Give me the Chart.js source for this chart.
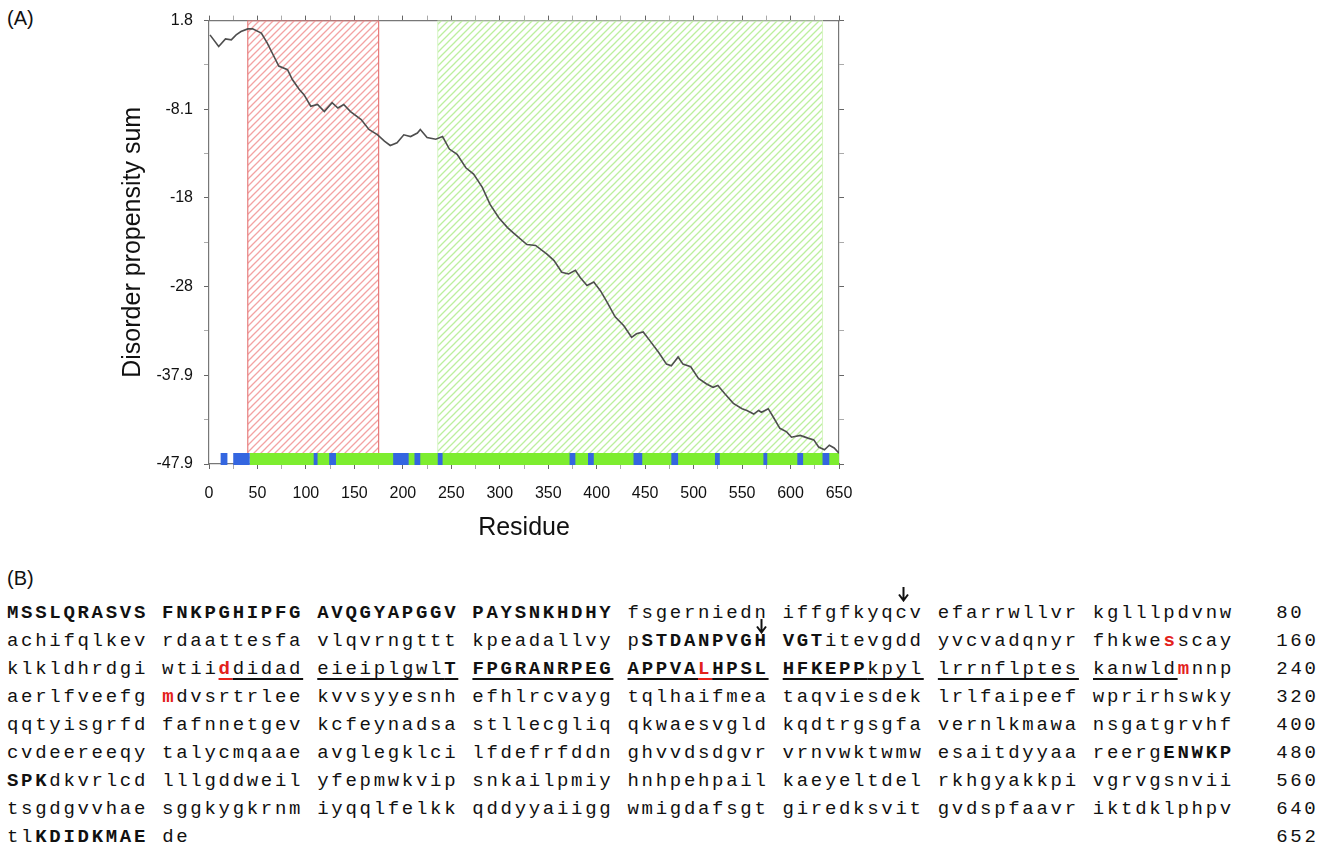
<!DOCTYPE html>
<html>
<head>
<meta charset="utf-8">
<script src="https://cdn.jsdelivr.net/npm/chart.js@4.4.1/dist/chart.umd.min.js"></script>
<style>
  html, body { margin: 0; padding: 0; background: #fff; }
  body { width: 1332px; height: 846px; position: relative; overflow: hidden; font-family: "Liberation Sans", Arial, sans-serif; }
  #wrap { position: absolute; left: 0; top: 0; width: 880px; height: 560px; }
  .panel { position: absolute; left: 7px; font-size: 20px; line-height: 22px; color: #111; }
  #seq { position: absolute; left: 7px; top: 599px; margin: 0; font-family: "Liberation Mono", "Courier New", monospace;
         font-size: 19px; line-height: 28px; letter-spacing: 2.7px; white-space: pre; color: #111; }
  #seq b { font-weight: bold; }
  #seq .r { color: #e3211b; font-weight: bold; }
  #seq .u { text-decoration: underline; text-underline-offset: 4px; text-decoration-thickness: 1.5px; }
  .arrow { position: absolute; }
</style>
</head>
<body>
<div class="panel" style="top:7px">(A)</div>
<div id="wrap"><canvas id="chart" width="880" height="560"></canvas></div>
<div class="panel" style="top:567px">(B)</div>

<svg class="arrow" style="left:756px;top:619px" width="11" height="15"><path d="M5.5 0V13M1 7.5L5.5 13.5L10 7.5" fill="none" stroke="#111" stroke-width="2"/></svg>
<svg class="arrow" style="left:898px;top:587px" width="11" height="15"><path d="M5.5 0V13M1 7.5L5.5 13.5L10 7.5" fill="none" stroke="#111" stroke-width="2"/></svg>

<pre id="seq"><b>MSSLQRASVS FNKPGHIPFG AVQGYAPGGV PAYSNKHDHY</b> fsgerniedn iffgfkyqcv efarrwllvr kglllpdvnw   80
achifqlkev rdaattesfa vlqvrngttt kpeadallvy p<b>STDANPVGH</b> <b>VGT</b>itevgdd yvcvadqnyr fhkwe<span class="r">s</span>scay   160
klkldhrdgi wtii<span class="r u">d</span><span class="u">didad</span> <span class="u">eieiplgwl<b>T</b></span> <span class="u"><b>FPGRANRPEG</b></span> <span class="u"><b>APPVA</b></span><span class="r u">L</span><span class="u"><b>HPSL</b></span> <span class="u"><b>HFKEPP</b>kpyl</span> <span class="u">lrrnflptes</span> <span class="u">kanwld</span><span class="r">m</span>nnp   240
aerlfveefg <span class="r">m</span>dvsrtrlee kvvsyyesnh efhlrcvayg tqlhaifmea taqviesdek lrlfaipeef wprirhswky   320
qqtyisgrfd fafnnetgev kcfeynadsa stllecgliq qkwaesvgld kqdtrgsgfa vernlkmawa nsgatgrvhf   400
cvdeereeqy talycmqaae avglegklci lfdefrfddn ghvvdsdgvr vrnvwktwmw esaitdyyaa reerg<b>ENWKP</b>   480
<b>SPK</b>dkvrlcd lllgddweil yfepmwkvip snkailpmiy hnhpehpail kaeyeltdel rkhgyakkpi vgrvgsnvii   560
tsgdgvvhae sggkygkrnm iyqqlfelkk qddyyaiigg wmigdafsgt giredksvit gvdspfaavr iktdklphpv   640
tl<b>KDIDKMAE</b> de                                                                             652</pre>

<script>
// disorder propensity sum
const residue    = [1, 10, 17, 23, 28, 33, 40, 45, 54, 60, 66, 72, 81, 86, 93, 98, 105, 112, 119, 127,
                    133, 139, 146, 157, 165, 174, 181, 187, 194, 201, 208, 215, 218, 225, 234, 241, 248, 256, 265, 273,
                    282, 290, 299, 308, 314, 328, 337, 349, 356, 364, 371, 378, 383, 390, 397, 404, 411, 419, 428, 436,
                    441, 448, 455, 464, 472, 477, 484, 489, 497, 505, 513, 520, 525, 532, 541, 550, 555, 562, 567, 570,
                    577, 582, 589, 596, 601, 610, 618, 624, 629, 635, 640, 645, 650];
const propensity = [0.2, -1.1, -0.25, -0.36, 0.2, 0.57, 0.87, 0.87, 0.4, -0.7, -2.0, -3.3, -3.7, -4.8, -5.9, -6.5, -7.8, -7.6, -8.4, -7.4,
                    -8.0, -7.6, -8.4, -9.3, -10.4, -11.0, -11.7, -12.2, -11.9, -11.0, -11.2, -10.8, -10.4, -11.3, -11.5, -11.2, -12.6, -13.2, -14.7, -15.4,
                    -16.9, -18.8, -20.3, -21.4, -22.0, -23.3, -23.4, -24.4, -25.1, -26.4, -26.6, -26.2, -27.0, -27.9, -27.5, -28.5, -29.8, -31.4, -32.4, -33.7,
                    -33.3, -33.1, -34.1, -35.4, -36.7, -36.9, -35.9, -36.7, -37.0, -38.3, -38.9, -39.3, -39.1, -40.0, -41.1, -41.7, -41.9, -42.3, -41.9, -42.1,
                    -41.7, -42.6, -43.9, -44.3, -44.9, -44.7, -45.0, -45.2, -46.0, -46.3, -45.8, -46.1, -46.7];

const yTickLabels  = ['-47.9', '-37.9', '-28', '-18', '-8.1', '1.8'];
const redRegion    = [40, 175];
const greenRegion  = [236, 633];
const stripRange   = [42, 650];
const blueSegments = [[12, 19], [25, 42], [108, 112], [124, 131], [190, 206], [212, 218], [236, 241],
                      [372, 378], [391, 397], [438, 447], [477, 484], [522, 527], [572, 576], [607, 613], [633, 640]];

const Y_MIN = -47.9, Y_MAX = 1.8;
const STRIP_Y = -47.35;
const yTicks = Array.from({ length: 11 }, (_, i) => Y_MIN + i * (Y_MAX - Y_MIN) / 10);

Chart.defaults.font.family = '"Liberation Sans", Arial, sans-serif';
Chart.defaults.color = '#111';

const hatch = (color) => {
  const s = 7, c = document.createElement('canvas');
  c.width = c.height = s;
  const g = c.getContext('2d');
  g.strokeStyle = color; g.lineWidth = 1.3;
  g.beginPath();
  g.moveTo(0, s); g.lineTo(s, 0);
  g.moveTo(-1, 1); g.lineTo(1, -1);
  g.moveTo(s - 1, s + 1); g.lineTo(s + 1, s - 1);
  g.stroke();
  return g.createPattern(c, 'repeat');
};

const rect = ([a, b]) => [{ x: a, y: Y_MIN }, { x: a, y: Y_MAX }, { x: b, y: Y_MAX }, { x: b, y: Y_MIN }];
const segs = (list) => list.flatMap(([a, b]) => [{ x: a, y: STRIP_Y }, { x: b, y: STRIP_Y }, { x: b, y: null }]);

const axisBorder = { display: true, color: '#777', width: 1.2 };
const xGrid = { drawOnChartArea: false, tickLength: 5, tickColor: c => (c.tick && c.tick.value % 50 === 0) ? '#666' : '#aaa' };
const yGrid = { drawOnChartArea: false, tickLength: 5, tickColor: c => c.index % 2 === 0 ? '#666' : '#aaa' };
const setYTicks = s => { s.ticks = yTicks.map(v => ({ value: v })); };

new Chart(document.getElementById('chart'), {
  type: 'line',
  data: {
    datasets: [
      { data: residue.map((r, i) => ({ x: r, y: propensity[i] })), borderColor: '#4e4e4e', borderWidth: 1.6, pointRadius: 0, order: 1 },
      { data: segs(blueSegments), borderColor: '#3466e0', borderWidth: 12, pointRadius: 0, spanGaps: false, clip: 3, order: 2 },
      { data: segs([stripRange]), borderColor: '#7ded2f', borderWidth: 12, pointRadius: 0, clip: 3, order: 3 },
      { data: rect(redRegion), fill: 'start', backgroundColor: hatch('#f3a3a3'), borderColor: '#e77c7c', borderWidth: 1.2, pointRadius: 0, order: 5 },
      { data: rect(greenRegion), fill: 'start', backgroundColor: hatch('#bcef9e'), borderColor: '#d6f5c4', borderWidth: 1, pointRadius: 0, order: 6 },
    ]
  },
  options: {
    responsive: false,
    animation: false,
    layout: { padding: { left: 110, top: 0, right: 0, bottom: 0 } },
    plugins: { legend: { display: false }, tooltip: { enabled: false } },
    scales: {
      x: {
        type: 'linear', position: 'bottom', min: 0, max: 650,
        afterFit: s => { s.height = 96; },
        ticks: { stepSize: 25, autoSkip: false, maxRotation: 0, padding: 15, font: { size: 16 }, callback: v => v % 50 === 0 ? v : '' },
        grid: xGrid, border: axisBorder,
        title: { display: true, text: 'Residue', font: { size: 25 }, padding: { top: 0, bottom: 17 } }
      },
      x2: {
        type: 'linear', position: 'top', min: 0, max: 650, display: true,
        afterFit: s => { s.height = 19; },
        ticks: { display: false, stepSize: 25, autoSkip: false },
        grid: xGrid, border: axisBorder
      },
      y: {
        type: 'linear', position: 'left', min: Y_MIN, max: Y_MAX,
        afterBuildTicks: setYTicks,
        afterFit: s => { s.width = 99; },
        ticks: { padding: 11, font: { size: 16 }, autoSkip: false, callback: (v, i) => i % 2 === 0 ? yTickLabels[i / 2] : '' },
        grid: yGrid, border: axisBorder,
        title: { display: true, text: 'Disorder propensity sum', font: { size: 25 }, padding: { top: 8, bottom: 0 } }
      },
      y2: {
        type: 'linear', position: 'right', min: Y_MIN, max: Y_MAX, display: true,
        afterBuildTicks: setYTicks,
        afterFit: s => { s.width = 41; },
        ticks: { display: false },
        grid: yGrid, border: axisBorder
      }
    }
  }
});
</script>
</body>
</html>
